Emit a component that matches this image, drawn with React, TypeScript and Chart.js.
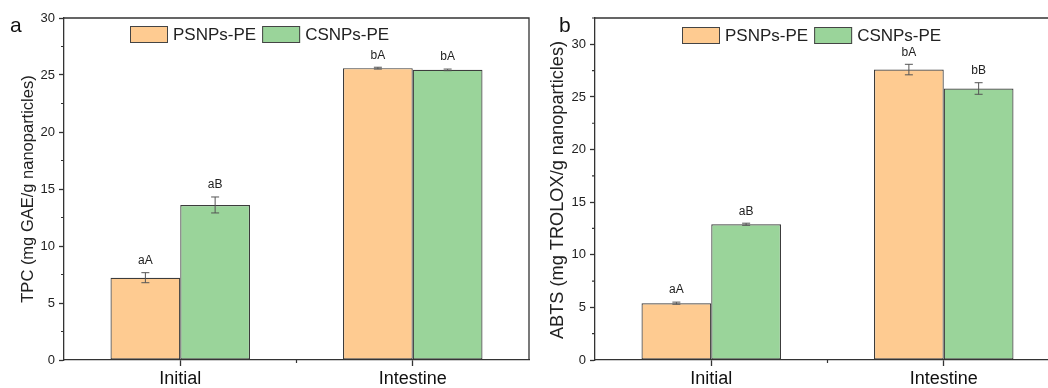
import React, { useEffect, useRef } from 'react';
import { Chart, registerables } from 'chart.js';

Chart.register(...registerables);

const FONT = "'Liberation Sans', Arial, Helvetica, sans-serif";

// ---- data ----
const categories = ['Initial', 'Intestine'];
const seriesNames = ['PSNPs-PE', 'CSNPs-PE'];
const seriesColors = ['#FECB91', '#9AD49A'];

const tpcPS = [7.22, 25.6];
const tpcPSErr = [0.44, 0.08];
const tpcCS = [13.6, 25.45];
const tpcCSErr = [0.7, 0.07];
const tpcPSLetters = ['aA', 'bA'];
const tpcCSLetters = ['aB', 'bA'];
const tpcMax = 30;

const abtsPS = [5.4, 27.6];
const abtsPSErr = [0.1, 0.5];
const abtsCS = [12.9, 25.8];
const abtsCSErr = [0.1, 0.55];
const abtsPSLetters = ['aA', 'bA'];
const abtsCSLetters = ['aB', 'bB'];
const abtsMax = 32.5;

type PanelCfg = {
  left: number;
  width: number;
  yAxisWidth: number;
  padRight: number;
  yMax: number;
  series: number[][];
  errors: number[][];
  letters: string[][];
  panelLabel: string;
  panelLabelX: number;
  yTitle: string;
  yTitleX: number;
  yTitleY: number;
  yTitleSize: number;
  legendX: number;
  legendY: number;
  drawRight: boolean;
};

function makeDecor(cfg: PanelCfg) {
  return {
    id: 'decor',
    afterDatasetsDraw(chart: any) {
      const ctx = chart.ctx;
      const ys = chart.scales.y;
      const xs = chart.scales.x;
      const area = chart.chartArea;
      ctx.save();
      // error bars and letters
      chart.data.datasets.forEach((ds: any, i: number) => {
        const meta = chart.getDatasetMeta(i);
        meta.data.forEach((el: any, j: number) => {
          const v = ds.data[j];
          const e = cfg.errors[i][j];
          const yt = ys.getPixelForValue(v + e);
          const yb = ys.getPixelForValue(v - e);
          ctx.strokeStyle = '#555';
          ctx.lineWidth = 1;
          ctx.beginPath();
          ctx.moveTo(el.x, yt);
          ctx.lineTo(el.x, yb);
          ctx.moveTo(el.x - 4, yt);
          ctx.lineTo(el.x + 4, yt);
          ctx.moveTo(el.x - 4, yb);
          ctx.lineTo(el.x + 4, yb);
          ctx.stroke();
          ctx.fillStyle = '#222';
          ctx.font = `12px ${FONT}`;
          ctx.textAlign = 'center';
          ctx.textBaseline = 'middle';
          ctx.fillText(cfg.letters[i][j], el.x, yt - 12);
        });
      });
      // frame
      ctx.strokeStyle = '#333';
      ctx.lineWidth = 1.3;
      ctx.beginPath();
      ctx.moveTo(area.left, area.top);
      ctx.lineTo(area.right, area.top);
      if (cfg.drawRight) ctx.lineTo(area.right, area.bottom);
      ctx.stroke();
      // minor ticks y
      ctx.lineWidth = 1.2;
      ctx.beginPath();
      for (let v = 2.5; v <= cfg.yMax + 0.001; v += 5) {
        const p = ys.getPixelForValue(v);
        ctx.moveTo(area.left - 3, p);
        ctx.lineTo(area.left, p);
      }
      // minor tick x between categories
      const mid = (xs.getPixelForValue(0) + xs.getPixelForValue(1)) / 2;
      ctx.moveTo(mid, area.bottom);
      ctx.lineTo(mid, area.bottom + 3);
      ctx.stroke();
      // legend
      let lx = cfg.legendX;
      const ly = cfg.legendY;
      ctx.font = `17px ${FONT}`;
      ctx.textAlign = 'left';
      ctx.textBaseline = 'middle';
      chart.data.datasets.forEach((ds: any) => {
        ctx.fillStyle = ds.backgroundColor;
        ctx.fillRect(lx, ly, 38, 17);
        ctx.strokeStyle = '#444';
        ctx.lineWidth = 1;
        ctx.strokeRect(lx + 0.5, ly + 0.5, 37, 16);
        ctx.fillStyle = '#222';
        const tx = lx + 38 + 5;
        ctx.fillText(ds.label, tx, ly + 9);
        lx = tx + ctx.measureText(ds.label).width + 6;
      });
      // panel label
      ctx.font = `21px ${FONT}`;
      ctx.textBaseline = 'alphabetic';
      ctx.textAlign = 'left';
      ctx.fillStyle = '#111';
      ctx.fillText(cfg.panelLabel, cfg.panelLabelX, 32);
      // y title
      ctx.save();
      ctx.translate(cfg.yTitleX, cfg.yTitleY);
      ctx.rotate(-Math.PI / 2);
      ctx.font = `${cfg.yTitleSize}px ${FONT}`;
      ctx.textAlign = 'center';
      ctx.textBaseline = 'alphabetic';
      ctx.fillStyle = '#222';
      ctx.fillText(cfg.yTitle, 0, 0);
      ctx.restore();
      ctx.restore();
    },
  };
}

function Panel({ cfg }: { cfg: PanelCfg }) {
  const ref = useRef<HTMLCanvasElement>(null);
  useEffect(() => {
    const chart = new Chart(ref.current as HTMLCanvasElement, {
      type: 'bar',
      data: {
        labels: categories,
        datasets: cfg.series.map((d, i) => ({
          label: seriesNames[i],
          data: d,
          backgroundColor: seriesColors[i],
          borderColor: '#3c3c3c',
          borderWidth: 1.2,
          borderSkipped: false,
          barPercentage: 1,
          categoryPercentage: 0.6,
        })),
      },
      options: {
        responsive: false,
        animation: false,
        devicePixelRatio: 1,
        layout: { padding: { left: 0, right: cfg.padRight, top: 18, bottom: 0 } },
        plugins: { legend: { display: false }, tooltip: { enabled: false } },
        scales: {
          x: {
            type: 'category',
            offset: true,
            grid: {
              offset: false,
              drawOnChartArea: false,
              drawTicks: true,
              tickLength: 6,
              tickColor: '#333',
              tickWidth: 1.3,
            },
            border: { display: true, color: '#333', width: 1.3 },
            ticks: { font: { family: FONT, size: 18 }, color: '#111', padding: 2, maxRotation: 0 },
            afterFit: (s: any) => {
              s.height = 28;
            },
          },
          y: {
            min: 0,
            max: cfg.yMax,
            grid: {
              drawOnChartArea: false,
              drawTicks: true,
              tickLength: 5,
              tickColor: '#333',
              tickWidth: 1.3,
            },
            border: { display: true, color: '#333', width: 1.3 },
            ticks: {
              stepSize: 5,
              includeBounds: false,
              font: { family: FONT, size: 13 },
              color: '#222',
              padding: 4,
            },
            afterFit: (s: any) => {
              s.width = cfg.yAxisWidth;
            },
          },
        },
      },
      plugins: [makeDecor(cfg)],
    } as any);
    return () => chart.destroy();
  }, []);
  return (
    <canvas
      ref={ref}
      width={cfg.width}
      height={388}
      style={{ position: 'absolute', left: cfg.left, top: 0, width: cfg.width, height: 388 }}
    />
  );
}

const panelA: PanelCfg = {
  left: 0,
  width: 540,
  yAxisWidth: 64,
  padRight: 11,
  yMax: tpcMax,
  series: [tpcPS, tpcCS],
  errors: [tpcPSErr, tpcCSErr],
  letters: [tpcPSLetters, tpcCSLetters],
  panelLabel: 'a',
  panelLabelX: 10,
  yTitle: 'TPC (mg GAE/g nanoparticles)',
  yTitleX: 33,
  yTitleY: 189,
  yTitleSize: 16.5,
  legendX: 130,
  legendY: 26,
  drawRight: true,
};

const panelB: PanelCfg = {
  left: 540,
  width: 535,
  yAxisWidth: 55,
  padRight: 15,
  yMax: abtsMax,
  series: [abtsPS, abtsCS],
  errors: [abtsPSErr, abtsCSErr],
  letters: [abtsPSLetters, abtsCSLetters],
  panelLabel: 'b',
  panelLabelX: 19,
  yTitle: 'ABTS (mg TROLOX/g nanoparticles)',
  yTitleX: 23,
  yTitleY: 190,
  yTitleSize: 18.2,
  legendX: 142,
  legendY: 27,
  drawRight: true,
};

export default function App() {
  return (
    <div
      style={{
        position: 'fixed',
        left: 0,
        top: 0,
        width: 1048,
        height: 388,
        overflow: 'hidden',
        background: '#fff',
      }}
    >
      <Panel cfg={panelA} />
      <Panel cfg={panelB} />
    </div>
  );
}
